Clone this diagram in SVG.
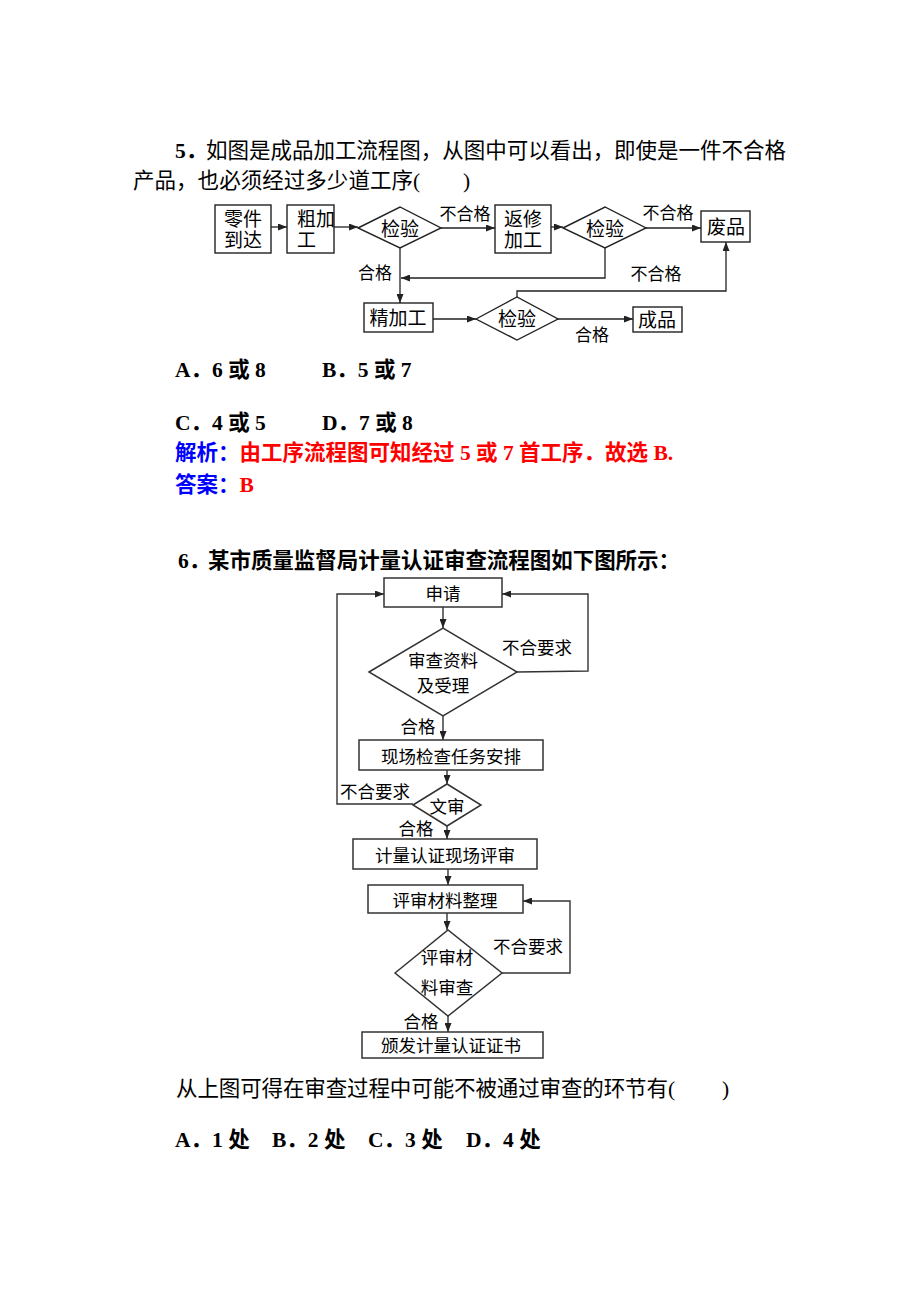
<svg xmlns="http://www.w3.org/2000/svg" width="920" height="1302" viewBox="0 0 920 1302">
<defs>
<style>
text{font-family:'Liberation Serif','Noto Sans CJK SC',serif;fill:#000}
.body{font-size:21.5px}
.b{font-weight:bold}
.lbl{font-size:19px;text-anchor:middle;dominant-baseline:central}
.sm{font-size:17px;text-anchor:middle;dominant-baseline:central}
.lb2{font-size:17.5px;text-anchor:middle;dominant-baseline:central}
.box{fill:#fff;stroke:#222;stroke-width:1.4}
.box2{fill:#fff;stroke:#333;stroke-width:1.5}
.ln{fill:none;stroke:#222;stroke-width:1.3}
.ln2{fill:none;stroke:#333;stroke-width:1.4}
.blue{fill:#0000ff}
.red{fill:#ff0000}
</style>
<marker id="ah" markerUnits="userSpaceOnUse" markerWidth="9" markerHeight="7" refX="9" refY="3.5" orient="auto">
<path d="M0,0 L9,3.5 L0,7 z" fill="#222"/>
</marker>
</defs>
<rect width="920" height="1302" fill="#fff"/>

<!-- Question 5 text -->
<g id="q5-text">
<text class="body b" x="175" y="158">5．</text>
<text class="body" x="206" y="158" textLength="580" lengthAdjust="spacing">如图是成品加工流程图，从图中可以看出，即使是一件不合格</text>
<text class="body" x="133" y="188" textLength="280" lengthAdjust="spacing">产品，也必须经过多少道工序</text>
<text class="body" x="413" y="188">(</text>
<text class="body" x="463" y="188">)</text>
</g>

<!-- Top flowchart connectors -->
<g id="connectors-top">
<line class="ln" x1="271" y1="227" x2="287" y2="227" marker-end="url(#ah)"/>
<line class="ln" x1="334" y1="227" x2="358" y2="227" marker-end="url(#ah)"/>
<line class="ln" x1="441" y1="228" x2="495" y2="228" marker-end="url(#ah)"/>
<line class="ln" x1="551" y1="227" x2="563" y2="227" marker-end="url(#ah)"/>
<line class="ln" x1="646" y1="228" x2="701" y2="228" marker-end="url(#ah)"/>
<line class="ln" x1="400" y1="248" x2="400" y2="303" marker-end="url(#ah)"/>
<polyline class="ln" points="605,248 605,278 401,278" marker-end="url(#ah)"/>
<line class="ln" x1="433" y1="319" x2="476" y2="319" marker-end="url(#ah)"/>
<polyline class="ln" points="517,297 517,291 726,291 726,242" marker-end="url(#ah)"/>
<line class="ln" x1="558" y1="319" x2="633" y2="319" marker-end="url(#ah)"/>
<text class="sm" x="465" y="214">不合格</text>
<text class="sm" x="668" y="213">不合格</text>
<text class="sm" x="375" y="273">合格</text>
<text class="sm" x="656" y="274">不合格</text>
<text class="sm" x="592" y="335">合格</text>
</g>

<!-- Top flowchart nodes -->
<g id="node-lingjian">
<rect class="box" x="215" y="205" width="56" height="48"/>
<text class="lbl" x="243" y="219">零件</text>
<text class="lbl" x="243" y="240">到达</text>
</g>
<g id="node-cujiagong">
<rect class="box" x="287" y="205" width="47" height="48"/>
<text class="lbl" x="297" y="219" style="text-anchor:start">粗加</text>
<text class="lbl" x="297" y="240" style="text-anchor:start">工</text>
</g>
<g id="node-jianyan1">
<polygon class="box" points="358,228 400,207 441,228 400,248"/>
<text class="lbl" x="400" y="229">检验</text>
</g>
<g id="node-fanxiu">
<rect class="box" x="495" y="205" width="56" height="48"/>
<text class="lbl" x="523" y="219">返修</text>
<text class="lbl" x="523" y="240">加工</text>
</g>
<g id="node-jianyan2">
<polygon class="box" points="563,228 605,207 646,228 605,248"/>
<text class="lbl" x="605" y="229">检验</text>
</g>
<g id="node-feipin">
<rect class="box" x="701" y="211" width="49" height="31"/>
<text class="lbl" x="726" y="227">废品</text>
</g>
<g id="node-jingjiagong">
<rect class="box" x="364" y="303" width="69" height="29"/>
<text class="lbl" x="398" y="318">精加工</text>
</g>
<g id="node-jianyan3">
<polygon class="box" points="476,319 517,297 558,319 517,340"/>
<text class="lbl" x="517" y="319">检验</text>
</g>
<g id="node-chengpin">
<rect class="box" x="633" y="307" width="49" height="25"/>
<text class="lbl" x="657" y="320">成品</text>
</g>

<!-- Options and answer -->
<g id="q5-options">
<text class="body b" x="175" y="377">A．6 或 8</text>
<text class="body b" x="322" y="377">B．5 或 7</text>
<text class="body b" x="175" y="430">C．4 或 5</text>
<text class="body b" x="322" y="430">D．7 或 8</text>
<text class="body b" x="175" y="460"><tspan class="blue">解析：</tspan><tspan class="red">由工序流程图可知经过 5 或 7 首工序．故选 B.</tspan></text>
<text class="body b" x="175" y="492"><tspan class="blue">答案：</tspan><tspan class="red">B</tspan></text>
</g>

<!-- Question 6 heading -->
<g id="q6-text">
<text class="body b" x="178" y="568">6．</text>
<text class="body b" x="208" y="568" textLength="472" lengthAdjust="spacing">某市质量监督局计量认证审查流程图如下图所示：</text>
</g>

<!-- Bottom flowchart connectors -->
<g id="connectors-bottom">
<line class="ln2" x1="443" y1="607" x2="443" y2="628" marker-end="url(#ah)"/>
<polyline class="ln2" points="517,672 588,671 588,594 502,594" marker-end="url(#ah)"/>
<line class="ln2" x1="443" y1="716" x2="443" y2="740" marker-end="url(#ah)"/>
<line class="ln2" x1="447" y1="770" x2="447" y2="784" marker-end="url(#ah)"/>
<polyline class="ln2" points="413,804 337,804 337,594 384,594" marker-end="url(#ah)"/>
<line class="ln2" x1="447" y1="826" x2="447" y2="839" marker-end="url(#ah)"/>
<line class="ln2" x1="448" y1="869" x2="448" y2="885" marker-end="url(#ah)"/>
<line class="ln2" x1="447" y1="913" x2="447" y2="930" marker-end="url(#ah)"/>
<polyline class="ln2" points="502,973 570,973 570,901 523,901" marker-end="url(#ah)"/>
<line class="ln2" x1="448" y1="1016" x2="448" y2="1032" marker-end="url(#ah)"/>
<text class="lb2" x="537" y="648">不合要求</text>
<text class="lb2" x="418" y="727">合格</text>
<text class="lb2" x="375" y="792">不合要求</text>
<text class="lb2" x="416" y="829">合格</text>
<text class="lb2" x="528" y="947">不合要求</text>
<text class="lb2" x="421" y="1022">合格</text>
</g>

<!-- Bottom flowchart nodes -->
<g id="node-shenqing">
<rect class="box2" x="384" y="578" width="118" height="29"/>
<text class="lb2" x="443" y="594">申请</text>
</g>
<g id="node-shencha">
<polygon class="box2" points="369,672 443,628 517,672 443,716"/>
<text class="lb2" x="443" y="661">审查资料</text>
<text class="lb2" x="443" y="686">及受理</text>
</g>
<g id="node-xianchang">
<rect class="box2" x="359" y="740" width="184" height="30"/>
<text class="lb2" x="451" y="757">现场检查任务安排</text>
</g>
<g id="node-wenshen">
<polygon class="box2" points="413,805 447,784 481,805 447,826"/>
<text class="lb2" x="447" y="807">文审</text>
</g>
<g id="node-pingshen">
<rect class="box2" x="353" y="839" width="184" height="30"/>
<text class="lb2" x="445" y="856">计量认证现场评审</text>
</g>
<g id="node-zhengli">
<rect class="box2" x="368" y="885" width="155" height="28"/>
<text class="lb2" x="445" y="901">评审材料整理</text>
</g>
<g id="node-cailiao">
<polygon class="box2" points="395,973 448,930 502,973 448,1016"/>
<text class="lb2" x="447" y="958">评审材</text>
<text class="lb2" x="447" y="988">料审查</text>
</g>
<g id="node-banfa">
<rect class="box2" x="362" y="1032" width="181" height="26"/>
<text class="lb2" x="451" y="1046">颁发计量认证证书</text>
</g>

<!-- Question 6 footer -->
<g id="q6-footer">
<text class="body" x="176" y="1096" textLength="492" lengthAdjust="spacing">从上图可得在审查过程中可能不被通过审查的环节有</text>
<text class="body" x="668" y="1096">(</text>
<text class="body" x="722" y="1096">)</text>
<text class="body b" x="175" y="1147">A．1 处</text>
<text class="body b" x="272" y="1147">B．2 处</text>
<text class="body b" x="368" y="1147">C．3 处</text>
<text class="body b" x="466" y="1147">D．4 处</text>
</g>
</svg>
